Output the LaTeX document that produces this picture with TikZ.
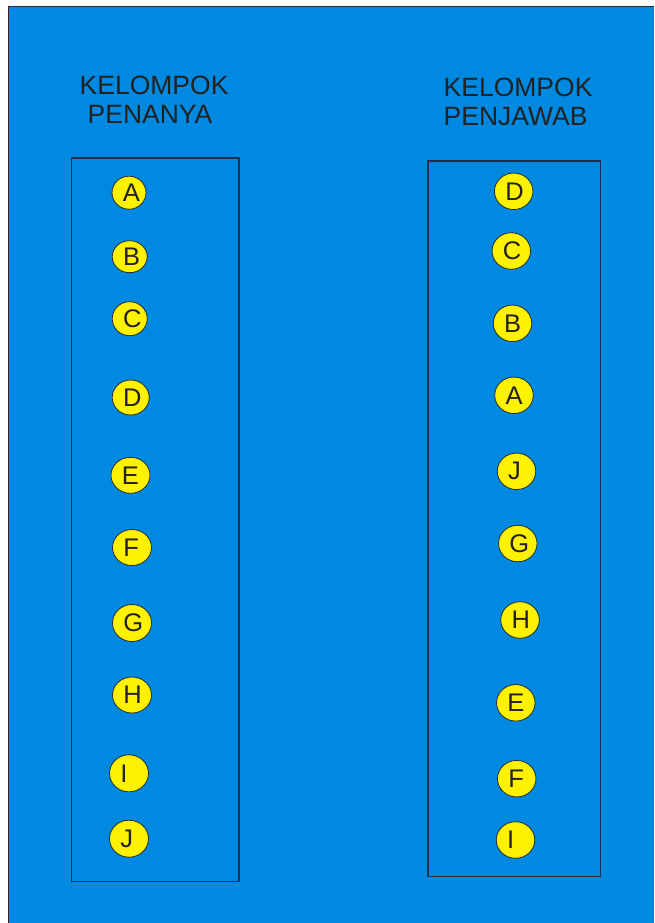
\documentclass[tikz,border=0pt]{standalone}
\usepackage{fontspec}
\setmainfont{Liberation Sans}
\usetikzlibrary{shapes.geometric}
\definecolor{bgblue}{RGB}{0,137,224}
\definecolor{edgegray}{RGB}{40,44,50}
\definecolor{boxline}{RGB}{28,50,72}
\definecolor{txt}{RGB}{34,34,34}
\tikzset{
  ball/.style={ellipse, draw=edgegray, line width=0.8pt, fill=yellow, inner sep=0pt},
  lett/.style={inner sep=0pt, anchor=west, text=txt, font=\fontsize{25.5}{29}\selectfont},
  title/.style={inner sep=0pt, anchor=base west, text=txt, font=\fontsize{26.5}{30}\selectfont},
  groupbox/.style={draw=boxline, line width=1.1pt}
}
\begin{document}
\begin{tikzpicture}[x=1pt,y=-1pt]
\useasboundingbox (0,0) rectangle (654,923);
\fill[white] (0,0) rectangle (654,923);
\fill[bgblue] (8.5,6.5) rectangle (654,923);
\draw[edgegray, line width=1.3pt] (8.5,923) -- (8.5,6.5) -- (654,6.5);

\node[title] (t1) at (79.5,95) {KELOMPOK};
\node[title] (t2) at (87.5,124) {PENANYA};
\node[title] (t3) at (443.5,97) {KELOMPOK};
\node[title] (t4) at (443.5,126) {PENJAWAB};

\draw[groupbox] (71.5,158) rectangle (239,881.5);
\draw[groupbox] (428,161) rectangle (600.5,876.5);

\foreach \n/\x/\y/\w/\h in {A/129/192.7/34/33, B/129.7/256.7/35/32, C/129.7/318.7/35/34, D/130.7/397.5/37/35, E/130.5/475.3/39/36, F/132/547.5/39/36, G/132/623/39/37, H/132/695/39/36, I/129/773.3/39/37, J/129/838.7/39/37}{
  \node[ball, minimum width=\w pt, minimum height=\h pt] (L\n) at (\x,\y) {};
  \node[lett] (tL\n) at ([xshift=11pt]L\n.west) {\n};
}
\foreach \n/\x/\y in {D/513.7/191.3, C/511.3/251, B/512.5/323.3, A/514/395.3, J/516.5/471.3, G/517.8/543.5, H/520/620, E/515.8/702.8, F/516.7/778.7, I/515.5/840}{
  \node[ball, minimum width=38.5pt, minimum height=36.5pt] (R\n) at (\x,\y) {};
  \node[lett] (tR\n) at ([xshift=11pt]R\n.west) {\n};
}
\end{tikzpicture}
\end{document}
